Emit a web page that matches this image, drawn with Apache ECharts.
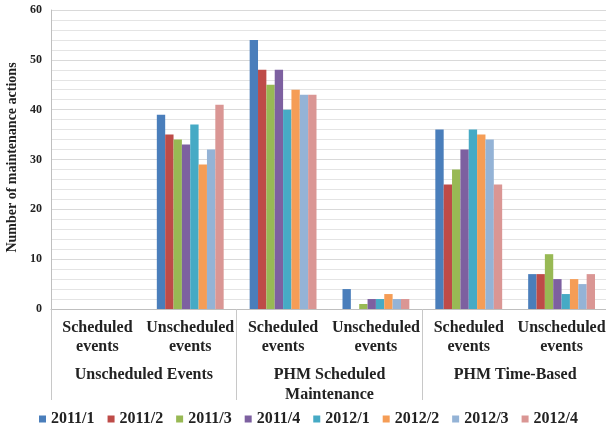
<!DOCTYPE html>
<html><head><meta charset="utf-8">
<script src="https://cdn.jsdelivr.net/npm/echarts@6/dist/echarts.min.js"></script>
<style>html,body{margin:0;padding:0;background:#fff}#c{width:606px;height:428px}</style>
</head><body><div id="c"></div>
<script>
const subCategories = ['Scheduled\nevents','Unscheduled\nevents','Scheduled\nevents','Unscheduled\nevents','Scheduled\nevents','Unscheduled\nevents'];
const groups = ['Unscheduled Events','PHM Scheduled\nMaintenance','PHM Time-Based'];
const seriesNames = ['2011/1','2011/2','2011/3','2011/4','2012/1','2012/2','2012/3','2012/4'];
const s2011_1 = [0, 39, 54, 4, 36, 7];
const s2011_2 = [0, 35, 48, 0, 25, 7];
const s2011_3 = [0, 34, 45, 1, 28, 11];
const s2011_4 = [0, 33, 48, 2, 32, 6];
const s2012_1 = [0, 37, 40, 2, 36, 3];
const s2012_2 = [0, 29, 44, 3, 35, 6];
const s2012_3 = [0, 32, 43, 2, 34, 5];
const s2012_4 = [0, 41, 43, 2, 25, 7];
const seriesData = [s2011_1,s2011_2,s2011_3,s2011_4,s2012_1,s2012_2,s2012_3,s2012_4];
const colors = ['#4A7EBB','#BE4B48','#98B954','#7D60A0','#46AAC5','#F59D56','#94B3D6','#DA9694'];

const font = '"Liberation Serif","Times New Roman",serif';
const chart = echarts.init(document.getElementById('c'));
chart.setOption({
  animation: false,
  color: colors,
  grid: {left: 51, right: -2, top: 10, bottom: 119, containLabel: false, outerBoundsMode: 'none'},
  legend: {
    top: 411, left: 39, padding: 0, icon: 'rect', itemWidth: 7, itemHeight: 7, itemGap: 13,
    textStyle: {fontFamily: font, fontWeight: 'bold', fontSize: 16, color: '#222'},
    data: seriesNames
  },
  xAxis: [{
    type: 'category', data: subCategories, position: 'bottom',
    axisLine: {lineStyle: {color: '#bfbfbf'}},
    axisTick: {show: false},
    axisLabel: {interval: 0, margin: 9, lineHeight: 19, fontFamily: font, fontWeight: 'bold', fontSize: 16, color: '#222'}
  },{
    type: 'category', data: groups, position: 'bottom',
    axisLine: {show: false},
    axisTick: {show: true, length: 91, lineStyle: {color: '#c8c8c8'}},
    axisLabel: {interval: 0, margin: 56, lineHeight: 20, fontFamily: font, fontWeight: 'bold', fontSize: 16, color: '#222'}
  }],
  yAxis: {
    type: 'value', min: 0, max: 60, interval: 10,
    name: 'Number of maintenance actions', nameLocation: 'middle', nameGap: 19,
    nameTextStyle: {fontFamily: font, fontWeight: 'bold', fontSize: 14, color: '#222', padding: [0, 0, 0, 4]},
    axisLine: {show: true, lineStyle: {color: '#bfbfbf'}},
    axisTick: {show: false},
    axisLabel: {fontFamily: font, fontWeight: 'bold', fontSize: 12, color: '#222', margin: 9},
    splitLine: {lineStyle: {color: '#d9d9d9'}},
    minorTick: {show: false, splitNumber: 5},
    minorSplitLine: {show: true, lineStyle: {color: '#e4e4e4'}}
  },
  series: seriesNames.map((n, i) => ({
    name: n, type: 'bar', data: seriesData[i], barGap: '0%', barCategoryGap: '28%'
  }))
});
</script></body></html>
